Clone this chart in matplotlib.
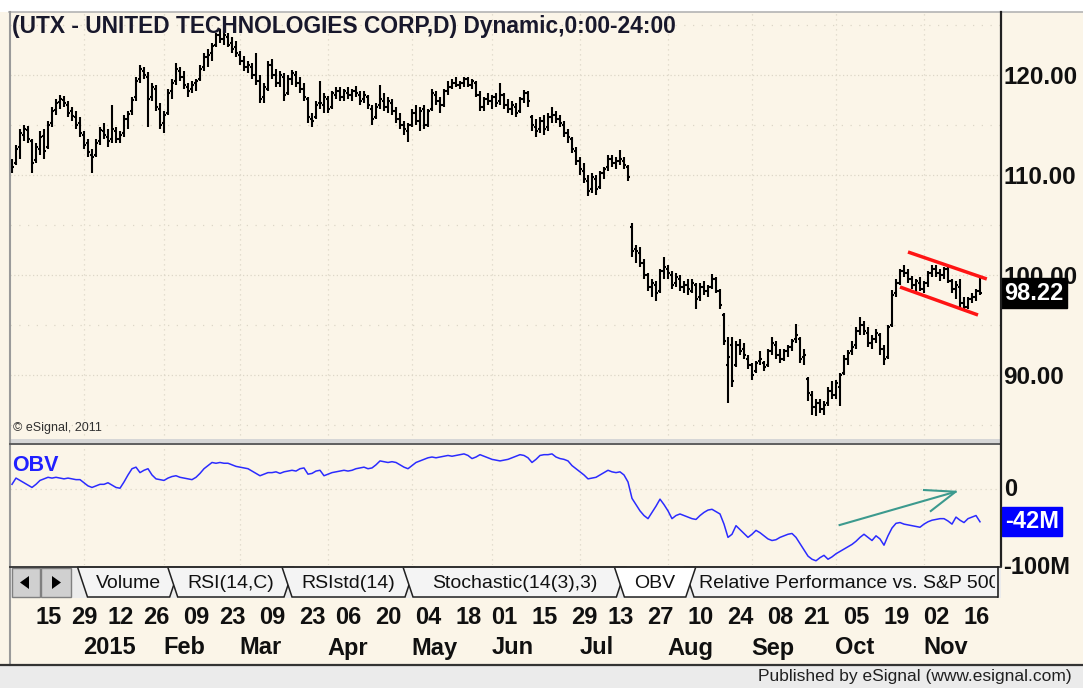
import matplotlib
matplotlib.use("Agg")
import matplotlib.pyplot as plt
import matplotlib.transforms as mtransforms
from matplotlib.patches import Polygon, Rectangle
import numpy as np
import pandas as pd

plt.rcParams['font.family'] = ['Liberation Sans', 'DejaVu Sans']

# ---- data ----
HOLIDAYS = ['2014-12-25', '2015-01-01', '2015-01-19', '2015-02-16',
            '2015-04-03', '2015-05-25', '2015-07-03', '2015-09-07']
dates = pd.bdate_range('2014-12-05', '2015-11-20', freq='C', holidays=HOLIDAYS)

opens = [
    111.0, 111.2, 112.8, 114.0, 114.5, 113.4, 111.5, 112.6, 113.9, 112.8,
    115.2, 116.5, 117.3, 117.5, 117.0, 116.4, 115.8, 115.2, 114.0, 113.2,
    112.0, 112.0, 113.4, 114.4, 113.8, 113.6, 114.4, 113.6, 114.2, 115.6,
    116.4, 117.8, 119.6, 120.4, 119.8, 117.8, 118.6, 116.6, 115.2, 116.2,
    118.4, 119.4, 120.4, 119.8, 118.8, 118.6, 119.2, 119.6, 120.8, 121.8,
    122.2, 123.0, 124.0, 123.6, 123.8, 123.2, 122.8, 122.0, 121.4, 120.8,
    120.8, 120.0, 119.4, 117.8, 118.6, 121.0, 120.0, 119.2, 119.8, 118.2,
    119.6, 120.0, 119.2, 118.6, 117.6, 115.6, 115.8, 117.2, 117.0, 117.6,
    116.8, 118.0, 118.4, 117.8, 118.2, 118.0, 118.4, 118.0, 117.6, 117.8,
    116.6, 115.8, 117.0, 117.4, 116.8, 117.2, 116.4, 115.6, 115.0, 114.4,
    115.0, 116.2, 115.4, 116.6, 115.0, 116.6, 118.0, 117.4, 117.0, 118.4,
    118.8, 119.2, 119.0, 119.2, 119.6, 119.0, 119.2, 118.0, 116.8, 117.6,
    117.4, 117.8, 117.4, 118.0, 117.0, 116.6, 116.8, 116.4, 117.6, 118.2,
    115.8, 114.8, 114.6, 115.4, 114.8, 115.8, 116.0, 115.6, 115.0, 114.2,
    113.6, 112.4, 111.4, 110.4, 109.4, 108.6, 109.6, 108.8, 110.2, 110.8,
    111.6, 111.2, 111.4, 111.4, 110.8, 104.8, 102.6, 102.2, 101.2, 100.0,
    98.8, 99.0, 98.4, 100.4, 100.6, 100.0, 99.2, 99.6, 98.8, 99.0,
    98.4, 99.0, 97.8, 98.8, 98.4, 98.8, 99.6, 98.4, 96.0, 91.0,
    93.0, 91.0, 93.0, 92.6, 91.6, 91.0, 90.4, 91.4, 91.2, 91.0,
    92.4, 93.0, 92.0, 91.6, 92.4, 92.8, 93.6, 93.6, 91.8, 89.6,
    88.0, 86.8, 87.2, 86.6, 87.2, 88.4, 88.0, 88.8, 90.2, 91.6,
    92.4, 93.0, 94.4, 95.0, 94.2, 93.2, 93.6, 94.0, 92.6, 91.8,
    95.0, 98.2, 99.2, 100.4, 100.2, 99.6, 99.0, 99.2, 98.6, 99.2,
    100.2, 100.6, 100.2, 100.0, 100.6, 99.4, 98.6, 98.8, 97.2, 96.8,
    97.6, 97.8, 98.4]
highs = [
    111.6, 113.0, 114.6, 115.0, 114.9, 113.6, 113.2, 114.4, 114.6, 115.4,
    116.8, 117.6, 118.0, 117.9, 117.4, 116.8, 116.4, 115.8, 114.4, 113.6,
    112.6, 113.6, 114.8, 115.2, 114.6, 117.0, 114.8, 114.4, 116.0, 116.4,
    117.8, 119.8, 121.0, 120.8, 120.3, 119.2, 119.0, 117.2, 116.4, 118.6,
    119.6, 121.2, 120.8, 120.4, 119.2, 119.4, 119.6, 121.0, 122.2, 122.6,
    123.2, 124.2, 124.6, 124.4, 124.2, 123.8, 123.4, 122.4, 121.9, 121.4,
    121.2, 122.2, 120.0, 119.2, 121.4, 121.6, 120.6, 120.4, 120.2, 120.0,
    120.5, 120.4, 119.8, 119.2, 117.8, 116.2, 117.4, 119.4, 118.2, 117.9,
    118.4, 118.8, 118.8, 118.6, 118.8, 118.6, 118.9, 118.4, 118.4, 118.0,
    117.0, 117.2, 119.0, 118.2, 117.8, 117.6, 116.8, 116.2, 115.4, 115.2,
    116.6, 117.0, 116.8, 117.0, 116.6, 118.6, 118.4, 117.8, 118.6, 119.4,
    119.6, 119.8, 119.4, 119.8, 119.8, 119.6, 119.4, 118.4, 117.8, 118.2,
    118.0, 118.2, 119.2, 118.2, 117.6, 117.4, 117.2, 117.8, 118.5, 118.4,
    116.0, 115.6, 115.8, 116.0, 116.2, 116.8, 116.4, 116.0, 115.4, 114.6,
    113.8, 112.8, 111.8, 111.2, 110.0, 110.2, 110.0, 110.4, 110.8, 112.0,
    112.0, 111.8, 112.5, 111.8, 111.0, 105.2, 103.0, 102.8, 101.6, 100.2,
    99.6, 99.4, 100.6, 101.8, 101.0, 100.4, 100.2, 100.0, 99.4, 99.6,
    99.6, 99.2, 99.2, 99.4, 99.0, 100.1, 99.8, 98.6, 96.2, 93.8,
    93.8, 93.4, 93.6, 93.2, 92.0, 91.2, 91.4, 92.4, 91.4, 92.6,
    93.8, 93.4, 92.6, 92.6, 93.0, 93.6, 95.1, 93.8, 92.6, 89.8,
    88.4, 87.6, 87.6, 87.4, 88.8, 89.4, 89.5, 90.2, 92.0, 92.5,
    93.4, 94.8, 95.8, 95.4, 94.8, 94.0, 94.6, 94.2, 93.0, 95.0,
    98.5, 99.6, 100.6, 101.0, 100.6, 99.9, 99.6, 99.8, 99.4, 100.4,
    101.0, 101.0, 100.6, 100.8, 100.8, 99.6, 99.4, 99.6, 97.8, 97.8,
    98.2, 98.6, 99.8]
lows = [
    110.2, 111.0, 111.6, 113.4, 113.2, 110.2, 111.2, 112.0, 111.6, 112.6,
    114.8, 116.0, 116.6, 116.8, 115.8, 115.4, 114.6, 113.8, 112.6, 111.8,
    110.2, 111.8, 113.0, 113.6, 112.8, 113.2, 113.2, 113.2, 113.8, 114.6,
    116.0, 117.4, 119.2, 119.6, 114.8, 117.4, 116.4, 114.6, 114.2, 116.0,
    117.6, 119.0, 119.4, 118.6, 117.8, 118.2, 118.4, 119.4, 120.4, 120.8,
    121.4, 122.8, 123.2, 123.0, 122.8, 122.2, 121.8, 121.0, 120.4, 120.2,
    119.6, 119.0, 117.2, 117.2, 118.4, 119.6, 118.8, 118.8, 117.4, 118.0,
    119.0, 118.8, 118.2, 117.4, 115.2, 114.8, 115.6, 116.6, 116.2, 116.2,
    116.6, 117.6, 117.4, 117.4, 117.6, 117.4, 117.8, 117.0, 117.2, 116.6,
    115.0, 115.6, 116.6, 116.4, 116.2, 116.0, 115.2, 114.6, 114.0, 113.3,
    114.8, 115.0, 114.4, 114.6, 114.8, 116.4, 117.0, 116.2, 116.8, 118.0,
    118.6, 118.8, 118.6, 118.8, 118.8, 118.6, 117.8, 116.4, 116.4, 117.0,
    116.6, 116.8, 117.0, 116.6, 116.2, 116.0, 115.8, 116.2, 117.2, 116.8,
    114.4, 113.8, 114.2, 114.0, 114.4, 115.2, 115.2, 114.8, 113.8, 113.2,
    112.2, 111.0, 110.0, 109.2, 107.9, 108.2, 108.0, 108.6, 109.6, 110.4,
    110.8, 110.6, 111.0, 110.6, 109.4, 101.8, 101.2, 100.8, 99.6, 98.4,
    97.8, 97.4, 98.2, 99.6, 99.6, 98.6, 98.8, 98.4, 98.2, 98.0,
    98.2, 96.6, 97.4, 98.0, 97.8, 98.6, 98.2, 96.6, 93.0, 87.2,
    88.8, 90.8, 92.0, 91.6, 90.6, 89.5, 90.2, 91.0, 90.4, 90.8,
    92.0, 91.6, 91.2, 91.4, 91.8, 92.4, 93.2, 91.2, 91.0, 87.4,
    86.0, 85.9, 86.2, 86.0, 86.9, 87.6, 87.6, 86.9, 90.0, 91.0,
    92.0, 92.6, 94.0, 94.0, 92.8, 92.6, 93.2, 92.0, 91.0, 91.6,
    94.8, 97.8, 99.0, 99.8, 99.2, 98.6, 98.2, 98.4, 98.2, 98.8,
    99.8, 99.8, 99.4, 99.6, 99.2, 98.2, 97.6, 96.8, 96.4, 96.6,
    97.2, 97.4, 98.0]
closes = [
    110.8, 112.6, 114.2, 114.6, 113.6, 111.2, 112.8, 113.8, 112.4, 115.0,
    116.4, 117.2, 117.6, 117.2, 116.2, 115.9, 115.0, 114.2, 113.0, 112.3,
    111.8, 113.2, 114.5, 114.0, 113.4, 114.6, 113.6, 114.0, 115.6, 116.1,
    117.5, 119.4, 120.6, 120.0, 117.6, 118.8, 116.8, 115.0, 116.0, 118.2,
    119.2, 120.6, 119.8, 119.0, 118.4, 119.0, 119.4, 120.6, 121.8, 122.0,
    122.9, 124.0, 123.6, 124.0, 123.0, 122.6, 122.2, 121.4, 120.8, 121.0,
    120.0, 119.4, 117.6, 118.8, 121.0, 120.0, 119.2, 120.0, 118.0, 119.6,
    120.2, 119.2, 118.6, 117.8, 115.8, 115.4, 117.0, 117.2, 117.8, 116.6,
    118.2, 118.4, 117.8, 118.4, 118.0, 118.4, 118.2, 117.4, 118.0, 117.0,
    115.6, 116.8, 117.6, 116.8, 117.4, 116.4, 115.6, 115.0, 114.6, 115.0,
    116.2, 115.4, 116.4, 115.0, 116.4, 118.2, 117.4, 117.0, 118.4, 118.8,
    119.2, 119.0, 119.2, 119.6, 119.0, 119.4, 118.0, 116.8, 117.6, 117.4,
    117.8, 117.2, 118.0, 117.0, 116.6, 117.0, 116.2, 117.6, 118.2, 117.4,
    115.0, 114.4, 115.4, 114.6, 115.8, 116.0, 115.6, 115.2, 114.2, 113.8,
    112.6, 111.4, 110.6, 109.6, 108.4, 109.8, 108.6, 110.2, 110.6, 111.6,
    111.2, 111.4, 111.6, 111.0, 109.8, 102.4, 102.4, 101.2, 100.0, 98.8,
    99.2, 98.2, 100.4, 100.8, 100.2, 99.0, 99.8, 98.8, 99.0, 98.6,
    99.2, 97.6, 98.8, 98.4, 98.8, 99.6, 98.4, 97.0, 93.4, 91.8,
    89.4, 93.0, 92.4, 92.0, 91.0, 90.0, 91.2, 91.6, 90.8, 92.4,
    93.2, 92.0, 91.6, 92.4, 92.8, 93.4, 94.0, 91.6, 92.0, 88.2,
    86.8, 87.2, 86.6, 87.0, 88.4, 88.0, 89.2, 90.0, 91.6, 92.2,
    92.8, 94.4, 95.0, 94.4, 93.2, 93.6, 94.2, 92.6, 91.6, 94.8,
    98.0, 99.2, 100.4, 100.2, 99.6, 99.0, 99.4, 98.6, 99.2, 100.2,
    100.6, 100.2, 100.0, 100.6, 99.4, 98.6, 99.0, 97.2, 96.8, 97.6,
    97.8, 98.4, 98.22]
# on balance volume, millions of shares
obv = [
    6, 14, 11, 8, 5, 2, 6, 11, 13, 15,
    14, 15, 14, 13, 14, 13, 12, 12, 8, 4,
    2, 4, 6, 6, 8, 5, 2, 1, 9, 18,
    26, 28, 21, 24, 26, 18, 13, 12, 11, 14,
    16, 17, 15, 14, 13, 12, 15, 20, 26, 30,
    34, 33, 34, 33, 33, 31, 29, 28, 27, 26,
    23, 20, 17, 19, 21, 21, 22, 20, 22, 23,
    24, 23, 26, 27, 19, 20, 23, 24, 17, 19,
    21, 22, 23, 24, 23, 24, 26, 27, 28, 26,
    27, 31, 36, 35, 34, 35, 34, 31, 28, 26,
    30, 34, 36, 38, 40, 41, 40, 41, 42, 43,
    42, 43, 44, 45, 43, 39, 41, 44, 42, 40,
    38, 37, 36, 37, 38, 40, 42, 44, 43, 40,
    34, 38, 43, 44, 44, 45, 41, 39, 38, 36,
    30, 26, 22, 18, 13, 14, 15, 18, 21, 24,
    22, 21, 22, 18, 9, -12, -20, -28, -34, -38,
    -30, -22, -13, -20, -28, -38, -34, -32, -34, -36,
    -38, -39, -34, -30, -27, -26, -29, -32, -45, -62,
    -58, -47, -52, -57, -62, -58, -53, -56, -60, -64,
    -66, -65, -62, -60, -58, -57, -62, -70, -78, -86,
    -90, -92, -88, -85, -90, -87, -83, -80, -77, -74,
    -71, -67, -62, -58, -62, -66, -60, -64, -72, -60,
    -50, -44, -43, -45, -46, -47, -48, -49, -45, -42,
    -40, -39, -38, -38, -41, -45, -36, -40, -43, -38,
    -36, -34, -42]

assert len(dates) == len(opens) == len(highs) == len(lows) == len(closes) == len(obv)

tick_dates = ['2014-12-15', '2014-12-29', '2015-01-12', '2015-01-26', '2015-02-09',
              '2015-02-23', '2015-03-09', '2015-03-23', '2015-04-06', '2015-04-20',
              '2015-05-04', '2015-05-18', '2015-06-01', '2015-06-15', '2015-06-29',
              '2015-07-13', '2015-07-27', '2015-08-10', '2015-08-24', '2015-09-08',
              '2015-09-21', '2015-10-05', '2015-10-19', '2015-11-02', '2015-11-16']
month_labels = ['2015', 'Feb', 'Mar', 'Apr', 'May', 'Jun', 'Jul', 'Aug', 'Sep', 'Oct', 'Nov']
tab_names = ['Volume', 'RSI(14,C)', 'RSIstd(14)', 'Stochastic(14(3),3)', 'OBV',
             'Relative Performance vs. S&P 500']
price_ticks = [90, 100, 110, 120]

# trend channel and OBV arrow drawn by the analyst
chan_upper_x, chan_upper_y = [224, 243.7], [102.35, 99.65]
chan_lower_x, chan_lower_y = [222, 241.5], [98.85, 96.05]
arrow_x, arrow_y = [206.9, 235.9], [-46.2, -3.5]
wing1_x, wing1_y = [228.0, 235.9, 229.7], [-1.3, -3.5, -28.2]

# ---- styling ----
CREAM = '#fbf5e8'
GRID = '#dcd6c8'
W, H = 1083, 688


def box(x0, y0, x1, y1):
    return [x0 / W, 1 - y1 / H, (x1 - x0) / W, (y1 - y0) / H]


def pixclip(x0, y0, x1, y1):
    # clip rectangle in display pixels (figure is drawn at 100 dpi)
    return mtransforms.Bbox.from_extents(x0, H - y1, x1, H - y0)


fig = plt.figure(figsize=(W / 100, H / 100), dpi=100)
fig.patch.set_facecolor(CREAM)

ax = fig.add_axes(box(10, 12, 1001, 440))
ax2 = fig.add_axes(box(10, 445, 1001, 565), sharex=ax)
ov = fig.add_axes([0, 0, 1, 1], zorder=10)
ov.set_xlim(0, W)
ov.set_ylim(H, 0)
ov.axis('off')

idx = np.arange(len(dates))
month_starts = [int(np.argmax((dates.year == 2015) & (dates.month == m))) for m in range(1, 12)]
tick_idx = [dates.get_loc(pd.Timestamp(d)) for d in tick_dates]

for a in (ax, ax2):
    a.set_facecolor(CREAM)
    for s in a.spines.values():
        s.set_visible(False)
    a.tick_params(axis='x', bottom=False, labelbottom=False)
    for m in month_starts:
        a.axvline(m, color=GRID, lw=0.9, ls=(0, (1, 3)), zorder=0.5)
ax.set_xlim(-0.5, 247.25)

# price panel
ax.set_ylim(83.55, 126.35)
for lvl in range(85, 126, 5):
    ax.axhline(lvl, color=GRID, lw=0.9, ls=(0, (1, 2)) if lvl % 10 == 0 else (0, (1, 6)), zorder=0.5)
ax.vlines(idx, lows, highs, color='black', lw=1.5, zorder=2)
ax.hlines(opens, idx - 0.6, idx, color='black', lw=1.5, zorder=2)
ax.hlines(closes, idx, idx + 0.6, color='black', lw=1.5, zorder=2)
ax.plot(chan_upper_x, chan_upper_y, color='#ff1414', lw=2.5, solid_capstyle='butt', zorder=3)
ax.plot(chan_lower_x, chan_lower_y, color='#ff1414', lw=2.5, solid_capstyle='butt', zorder=3)
ax.yaxis.tick_right()
ax.set_yticks(price_ticks)
ax.set_yticklabels(['%.2f' % v for v in price_ticks])
ax.tick_params(axis='y', length=0, pad=1.5, labelsize=17.5, labelcolor='#101010')
for lab in ax.get_yticklabels():
    lab.set_fontweight('bold')
tr = mtransforms.blended_transform_factory(ax.transAxes, ax.transData)
ax.text(1.003, closes[-1], '%.2f' % closes[-1], transform=tr, ha='left', va='center',
        fontsize=17, fontweight='bold', color='white',
        bbox=dict(boxstyle='square,pad=0.14', fc='black', ec='black'))

# OBV panel
ax2.set_ylim(-97.4, 56.4)
ax2.axhline(0, color=GRID, lw=0.9, ls=(0, (1, 3)), zorder=0.5)
ax2.plot(idx, obv, color='#2b2bff', lw=1.1, zorder=2)
ax2.plot(arrow_x, arrow_y, color='#3c9a8e', lw=1.5, zorder=3)
ax2.plot(wing1_x, wing1_y, color='#3c9a8e', lw=1.5, zorder=3)
ax2.set_yticks([])
tr2 = mtransforms.blended_transform_factory(ax2.transAxes, ax2.transData)
ax2.text(1.003, 0, '0', transform=tr2, ha='left', va='center', fontsize=17,
         fontweight='bold', color='#101010')
ax2.text(1.002, -100, '-100M', transform=tr2, ha='left', va='center', fontsize=17,
         fontweight='bold', color='#101010', zorder=20)
ax2.text(1.004, obv[-1], '%dM' % obv[-1], transform=tr2, ha='left', va='center',
         fontsize=17, fontweight='bold', color='white',
         bbox=dict(boxstyle='square,pad=0.12', fc='#0000ff', ec='#0000ff'))
ax2.text(0.002, 0.83, 'OBV', transform=ax2.transAxes, ha='left', va='center',
         fontsize=15.5, fontweight='bold', color='#2020ff')

# frame pieces (pixel coordinates)
ov.add_patch(Rectangle((0, 0), W, 11.5, fc='white', ec='none'))
ov.plot([9, W], [12, 12], color='#b4b4b4', lw=1.2)
ov.plot([9.5, 9.5], [12, 665], color='#9a9a9a', lw=1.5)
ov.add_patch(Rectangle((10, 439), 991, 6, fc='#d6d6d6', ec='none'))
ov.plot([10, 1001], [444, 444], color='#555555', lw=1.3)
ov.plot([1001, 1001], [12, 566], color='#202020', lw=1.6)
ov.add_patch(Rectangle((0, 665), W, H - 665, fc='#ebebeb', ec='none'))
ov.plot([0, W], [665, 665], color='#333333', lw=1.6)
ov.text(1072, 677, 'Published by eSignal (www.esignal.com)', ha='right', va='center',
        fontsize=12.5, color='#202020')
ov.text(12, 26, '(UTX - UNITED TECHNOLOGIES CORP,D) Dynamic,0:00-24:00', ha='left',
        va='center', fontsize=16.4, fontweight='bold', color='#18182c')
ov.text(13, 428, '\u00a9 eSignal, 2011', ha='left', va='center', fontsize=9, color='#303030')

# tab strip
ov.add_patch(Rectangle((10, 566), 991, 32, fc='#ececec', ec='none'))
ov.plot([10, 1001], [566.5, 566.5], color='#303030', lw=1.3)
for bx0, bx1, tri in [(12, 40, [(29, 576), (29, 589), (20, 582.5)]),
                      (41, 71, [(52, 576), (52, 589), (61, 582.5)])]:
    ov.add_patch(Rectangle((bx0, 568), bx1 - bx0, 29, fc='#d0d0d0', ec='#808080', lw=1))
    ov.add_patch(Polygon(tri, closed=True, fc='black', ec='none'))
tab_left = [77.5, 167.7, 282, 403, 614.4, 684]
tab_right = [179.7, 294, 415, 626.4, 695.8, 1030]
strip_box = pixclip(70, 560, 998, 600)
order = [0, 1, 2, 3, 5, 4]
for k in order:
    l, r = tab_left[k], tab_right[k]
    fc = 'white' if tab_names[k] == 'OBV' else '#f4f4f4'
    p = Polygon([(l, 567), (r, 567), (r - 10, 597), (l + 10, 597)], closed=True,
                fc=fc, ec='#202020', lw=1.1)
    ov.add_patch(p)
    p.set_clip_path(None)
    p.set_clip_box(strip_box)
    p.set_clip_on(True)
    if k == 5:
        t = ov.text(l + 15, 583.5, tab_names[k], ha='left', va='center', fontsize=14, color='#111111')
        t.set_clip_path(None)
        t.set_clip_box(pixclip(690, 560, 995, 600))
        t.set_clip_on(True)
    else:
        ov.text((l + r) / 2, 583.5, tab_names[k], ha='center', va='center', fontsize=14, color='#111111')
ov.plot([997.5, 997.5], [567, 597], color='#202020', lw=1.2)

# date axis labels
trd = mtransforms.blended_transform_factory(ax2.transData, fig.transFigure)
for i, d in zip(tick_idx, tick_dates):
    ax2.text(i - 0.2, 1 - 618 / H, d[-2:], transform=trd, ha='left', va='center',
             fontsize=17, fontweight='bold', color='#101010', clip_on=False)
for i, lab in zip(month_starts, month_labels):
    ax2.text(i - 0.2, 1 - 648 / H, lab, transform=trd, ha='left', va='center',
             fontsize=17, fontweight='bold', color='#101010', clip_on=False)

fig.savefig('out.png', dpi=100, facecolor=fig.get_facecolor())
